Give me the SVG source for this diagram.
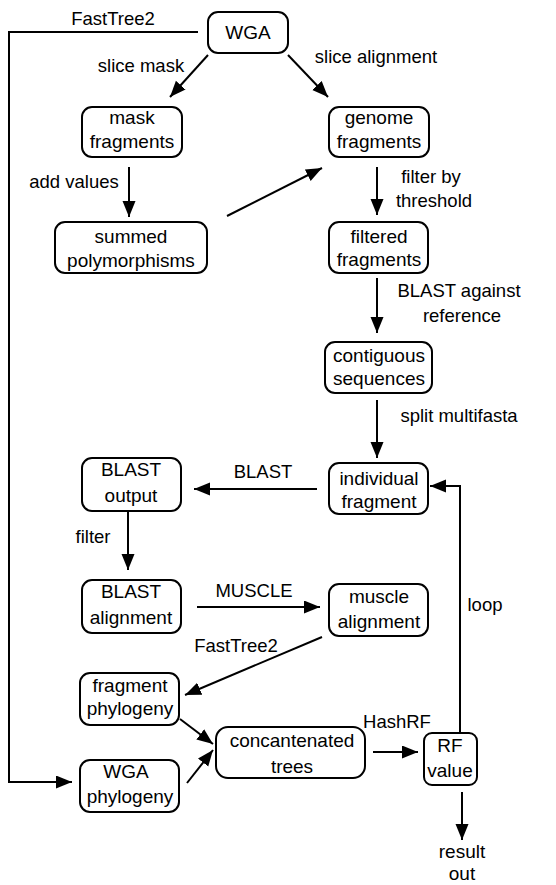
<svg xmlns="http://www.w3.org/2000/svg" width="556" height="885" viewBox="0 0 556 885">
<style>
.box{fill:#fff;stroke:#000;stroke-width:2}
text{font-family:"Liberation Sans",Arial,sans-serif;font-size:19px;fill:#000;text-anchor:middle}
.lbl{font-size:18.5px}
.c{fill:none;stroke:#000;stroke-width:2}
</style>
<defs>
<marker id="ah" markerUnits="userSpaceOnUse" markerWidth="17" markerHeight="14" refX="16" refY="6.5" orient="auto">
<path d="M0,0 L16,6.5 L0,13 z" fill="#000"/>
</marker>
</defs>
<rect width="556" height="885" fill="#fff"/>
<g id="connectors">
<polyline class="c" points="198,32 9,32 9,782 72,782" marker-end="url(#ah)"/>
<line class="c" x1="208" y1="55" x2="170" y2="97" marker-end="url(#ah)"/>
<line class="c" x1="288" y1="55" x2="328" y2="97" marker-end="url(#ah)"/>
<line class="c" x1="129" y1="167" x2="129" y2="217" marker-end="url(#ah)"/>
<line class="c" x1="227" y1="216" x2="322" y2="168" marker-end="url(#ah)"/>
<line class="c" x1="377" y1="167" x2="377" y2="215" marker-end="url(#ah)"/>
<line class="c" x1="377" y1="278" x2="377" y2="333" marker-end="url(#ah)"/>
<line class="c" x1="377" y1="400" x2="377" y2="458" marker-end="url(#ah)"/>
<line class="c" x1="317" y1="489" x2="194" y2="489" marker-end="url(#ah)"/>
<line class="c" x1="128" y1="512" x2="128" y2="570" marker-end="url(#ah)"/>
<line class="c" x1="197" y1="607" x2="320" y2="607" marker-end="url(#ah)"/>
<line class="c" x1="322" y1="637" x2="185" y2="695" marker-end="url(#ah)"/>
<line class="c" x1="180" y1="719" x2="213" y2="744" marker-end="url(#ah)"/>
<line class="c" x1="187" y1="783" x2="213" y2="750" marker-end="url(#ah)"/>
<line class="c" x1="373" y1="752" x2="418" y2="752" marker-end="url(#ah)"/>
<polyline class="c" points="460,733 460,486 430,486" marker-end="url(#ah)"/>
<line class="c" x1="462" y1="792" x2="462" y2="840" marker-end="url(#ah)"/>
</g>
<g id="edge-labels">
<text class="lbl" x="113" y="25">FastTree2</text>
<text class="lbl" x="141" y="72">slice mask</text>
<text class="lbl" x="376" y="63">slice alignment</text>
<text class="lbl" x="74" y="188">add values</text>
<text class="lbl" x="431" y="183">filter by</text>
<text class="lbl" x="434" y="207">threshold</text>
<text class="lbl" x="459" y="297">BLAST against</text>
<text class="lbl" x="462" y="322">reference</text>
<text class="lbl" x="459" y="422">split multifasta</text>
<text class="lbl" x="263" y="478">BLAST</text>
<text class="lbl" x="93" y="543">filter</text>
<text class="lbl" x="254" y="597">MUSCLE</text>
<text class="lbl" x="485" y="611">loop</text>
<text class="lbl" x="236" y="652">FastTree2</text>
<text class="lbl" x="397" y="728">HashRF</text>
</g>
<g id="WGA"><rect class="box" x="208" y="12" width="80" height="41" rx="10"/><text x="248" y="39">WGA</text></g>
<g id="mask-fragments"><rect class="box" x="82" y="107" width="100" height="50" rx="10"/><text x="132" y="124">mask</text><text x="132" y="148">fragments</text></g>
<g id="genome-fragments"><rect class="box" x="329" y="107" width="100" height="50" rx="10"/><text x="379" y="124">genome</text><text x="379" y="148">fragments</text></g>
<g id="summed-polymorphisms"><rect class="box" x="55" y="222" width="152" height="51" rx="10"/><text x="131" y="243">summed</text><text x="131" y="267">polymorphisms</text></g>
<g id="filtered-fragments"><rect class="box" x="329" y="222" width="99" height="51" rx="10"/><text x="379" y="243">filtered</text><text x="379" y="266">fragments</text></g>
<g id="contiguous-sequences"><rect class="box" x="325" y="342" width="107" height="51" rx="10"/><text x="379" y="362">contiguous</text><text x="379" y="385">sequences</text></g>
<g id="individual-fragment"><rect class="box" x="329" y="463" width="99" height="51" rx="10"/><text x="379" y="485">individual</text><text x="379" y="508">fragment</text></g>
<g id="BLAST-output"><rect class="box" x="82" y="458" width="99" height="53" rx="10"/><text x="131" y="476">BLAST</text><text x="131" y="502">output</text></g>
<g id="BLAST-alignment"><rect class="box" x="82" y="580" width="99" height="53" rx="10"/><text x="131" y="598">BLAST</text><text x="131" y="624">alignment</text></g>
<g id="muscle-alignment"><rect class="box" x="329" y="584" width="99" height="52" rx="10"/><text x="379" y="603">muscle</text><text x="379" y="628">alignment</text></g>
<g id="fragment-phylogeny"><rect class="box" x="80" y="673" width="99" height="52" rx="10"/><text x="130" y="692">fragment</text><text x="130" y="715">phylogeny</text></g>
<g id="WGA-phylogeny"><rect class="box" x="80" y="760" width="99" height="52" rx="10"/><text x="126" y="778">WGA</text><text x="130" y="803">phylogeny</text></g>
<g id="concantenated-trees"><rect class="box" x="216" y="727" width="149" height="51" rx="12"/><text x="292" y="747">concantenated</text><text x="292" y="773">trees</text></g>
<g id="RF-value"><rect class="box" x="424" y="733" width="53" height="52" rx="8"/><text x="450" y="752">RF</text><text x="450" y="777">value</text></g>
<g id="result-out"><text x="462" y="858">result</text><text x="462" y="880">out</text></g>
</svg>
